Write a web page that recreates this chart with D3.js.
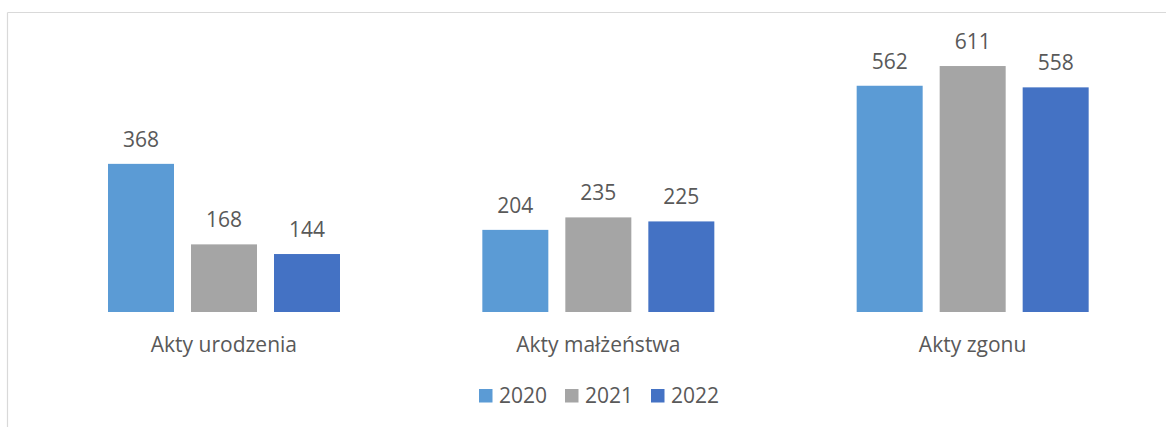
<!DOCTYPE html>
<html>
<head>
<meta charset="utf-8">
<script src="https://cdn.jsdelivr.net/npm/d3@7"></script>
<style>
  html, body { margin: 0; padding: 0; background: #fff; }
  svg { display: block; }
  text { font-family: "Open Sans", "Noto Sans", sans-serif; fill: #595959; }
</style>
</head>
<body>
<svg id="chart" width="1166" height="427"></svg>
<script>
var categories = ["Akty urodzenia", "Akty małżeństwa", "Akty zgonu"];
var years = ["2020", "2021", "2022"];
var values2020 = [368, 204, 562];
var values2021 = [168, 235, 611];
var values2022 = [144, 225, 558];
var colors = ["#5b9bd5", "#a5a5a5", "#4472c4"];

var series = [values2020, values2021, values2022];

var svg = d3.select("svg#chart");
var width = +svg.attr("width");
var height = +svg.attr("height");

// frame of the chart area (only top and left edge visible)
svg.append("line").attr("x1", 7.5).attr("x2", width).attr("y1", 12.5).attr("y2", 12.5)
  .style("stroke", "#d9d9d9").style("stroke-width", 1.2);
svg.append("line").attr("x1", 7.5).attr("x2", 7.5).attr("y1", 12.5).attr("y2", height)
  .style("stroke", "#d9d9d9").style("stroke-width", 1.2);

var baseline = 312;
var xScale = d3.scaleBand().domain(categories).range([36.75, 1159.75]).padding(0);
var inner = d3.scaleBand().domain(years).range([71.25, 303.25]).paddingInner(17 / 83).paddingOuter(0);
var yScale = d3.scaleLinear().domain([0, 700]).range([baseline, 30.2]);

var groups = svg.append("g").selectAll("g")
  .data(categories)
  .join("g")
  .attr("transform", function (d) { return "translate(" + xScale(d) + ",0)"; });

groups.each(function (cat, ci) {
  var g = d3.select(this);
  years.forEach(function (yr, si) {
    var v = series[si][ci];
    g.append("rect")
      .attr("x", inner(yr))
      .attr("y", yScale(v))
      .attr("width", inner.bandwidth())
      .attr("height", baseline - yScale(v))
      .style("fill", colors[si]);
    g.append("text")
      .attr("x", inner(yr) + inner.bandwidth() / 2)
      .attr("y", yScale(v) - 17)
      .attr("text-anchor", "middle")
      .style("font-size", "21px")
      .text(v);
  });
});

// category axis labels
svg.append("g").selectAll("text")
  .data(categories)
  .join("text")
  .attr("x", function (d) { return xScale(d) + xScale.bandwidth() / 2; })
  .attr("y", 351.5)
  .attr("text-anchor", "middle")
  .style("font-size", "21px")
  .text(function (d) { return d; });

// legend
var legendX = [479, 565, 651];
var legend = svg.append("g").selectAll("g")
  .data(years)
  .join("g")
  .attr("transform", function (d, i) { return "translate(" + legendX[i] + ",389)"; });
legend.append("rect").attr("width", 13.5).attr("height", 13.5)
  .style("fill", function (d, i) { return colors[i]; });
legend.append("text").attr("x", 20).attr("y", 13.5)
  .style("font-size", "21px")
  .text(function (d) { return d; });
</script>
</body>
</html>
